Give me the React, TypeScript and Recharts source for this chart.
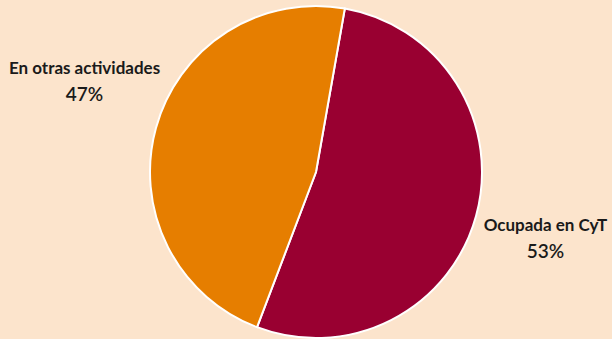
import React from "react";
import { PieChart, Pie, Cell } from "recharts";

const categories = ["Ocupada en CyT", "En otras actividades"];
const values = [53, 47];
const colors = ["#990031", "#E67E00"];
const labelNudge = [
  { dx: 0, dy: 4 },
  { dx: -2, dy: -27 },
];

const data = categories.map((name, i) => ({ name, value: values[i] }));

const RAD = Math.PI / 180;

const renderLabel = (props: any) => {
  const { cx, cy, midAngle, outerRadius, index, name, value } = props;
  const r = outerRadius + 72;
  const x = cx + r * Math.cos(-midAngle * RAD) + labelNudge[index].dx;
  const y = cy + r * Math.sin(-midAngle * RAD) + labelNudge[index].dy;
  return (
    <text
      x={x}
      y={y}
      textAnchor="middle"
      fill="#1a1a1a"
      fontFamily="Lato, sans-serif"
      fontWeight={700}
      style={{ fontSize: 17 }}
    >
      <tspan x={x} dy={-8}>{name}</tspan>
      <tspan x={x} dy={27} style={{ fontSize: 19, fontWeight: 600 }}>{`${value}%`}</tspan>
    </text>
  );
};

export default function App() {
  return (
    <div
      style={{
        position: "fixed",
        left: 0,
        top: 0,
        width: 612,
        height: 339,
        background: "#FCE4CC",
      }}
    >
      <PieChart width={612} height={339} margin={{ top: 0, right: 0, bottom: 0, left: 0 }}>
        <Pie
          data={data}
          dataKey="value"
          nameKey="name"
          cx={316}
          cy={172}
          outerRadius={166}
          startAngle={80}
          endAngle={-280}
          stroke="#ffffff"
          strokeWidth={2}
          label={renderLabel}
          labelLine={false}
          isAnimationActive={false}
        >
          {data.map((d, i) => (
            <Cell key={d.name} fill={colors[i]} />
          ))}
        </Pie>
      </PieChart>
    </div>
  );
}
